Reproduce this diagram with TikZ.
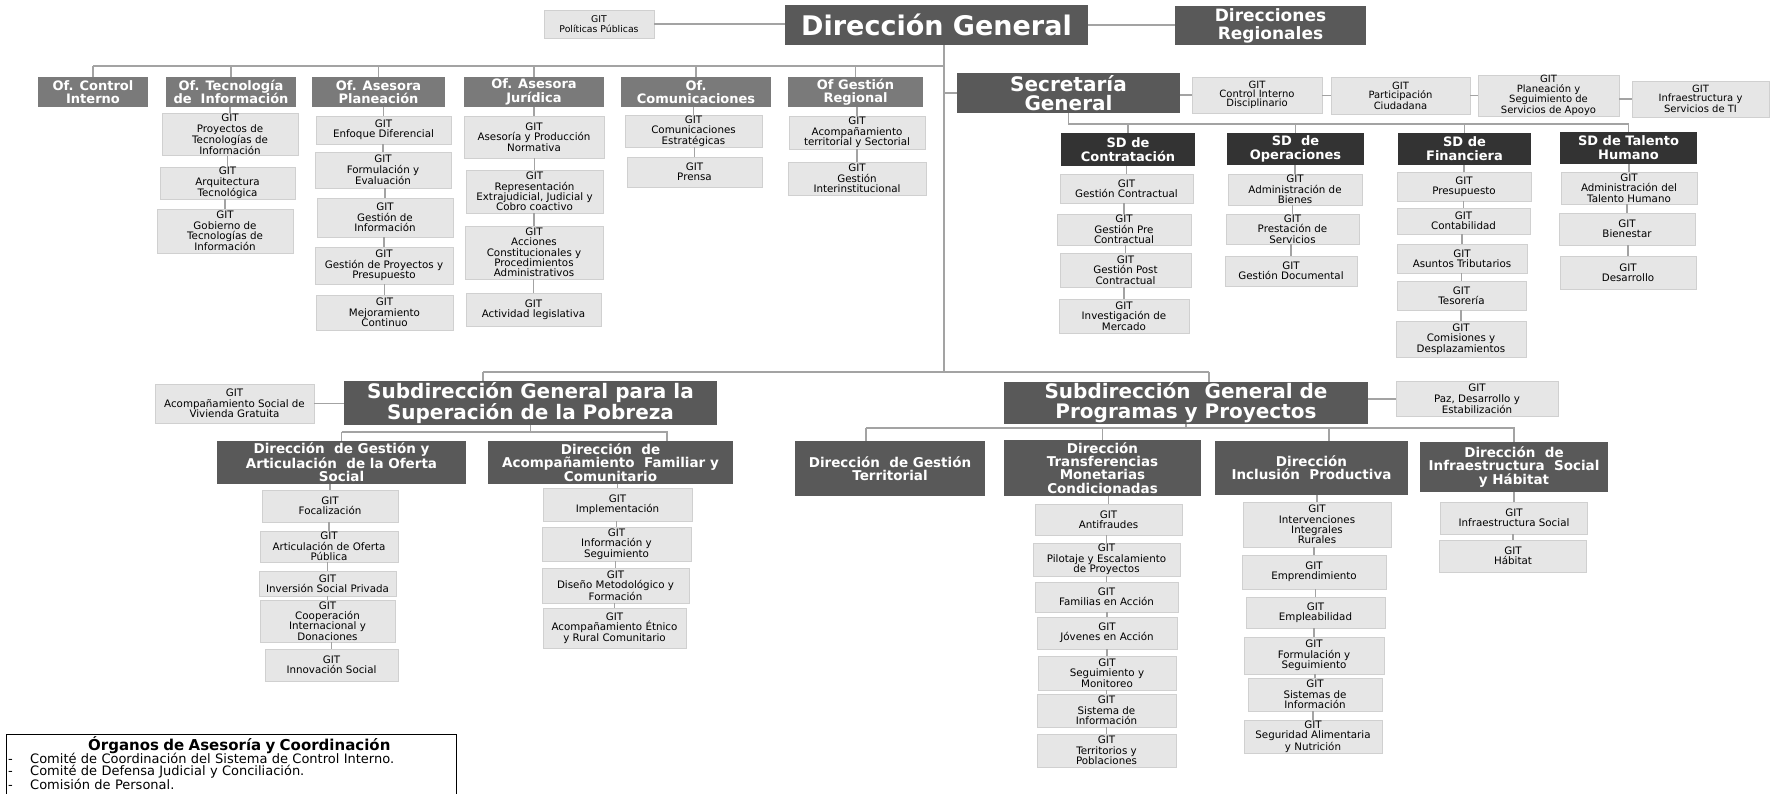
\documentclass[tikz,border=0pt]{standalone}
\usepackage{fontspec}
\setmainfont{DejaVu Sans}
\usetikzlibrary{positioning}
\definecolor{darkbox}{HTML}{595959}
\definecolor{officebox}{HTML}{7A7A7A}
\definecolor{sdbox}{HTML}{333333}
\definecolor{gitfill}{HTML}{E6E6E6}
\definecolor{gitline}{HTML}{D0D0D0}
\definecolor{wiregray}{HTML}{A3A3A3}

\begin{document}
\begin{tikzpicture}[
   x=1pt, y=-1pt,
   git/.style={rectangle, fill=gitfill, draw=gitline, inner sep=0.5pt, align=center, minimum width=136, font=\fontsize{10.3}{10.3}\selectfont},
   gitsmall/.style={git, font=\fontsize{10}{9.3}\selectfont},
   head/.style={rectangle, fill=darkbox, text=white, inner sep=1pt, align=center},
   office/.style={head, fill=officebox, minimum height=30, font=\bfseries\fontsize{13}{13.5}\selectfont},
   sd/.style={head, fill=sdbox, minimum height=32, font=\bfseries\fontsize{13}{14}\selectfont},
   dir/.style={head, font=\bfseries\fontsize{13.5}{13.3}\selectfont},
   subgen/.style={head, minimum height=42, font=\bfseries\fontsize{20}{20}\selectfont},
   link/.style={draw=wiregray, line width=1.2pt}
]
\useasboundingbox (0,0) rectangle (1773,794);

% Nodes
\node[git, minimum width=110, minimum height=28, font=\fontsize{9.3}{10}\selectfont] (polit) at (599,24) {GIT\\Políticas Públicas};
\node[head, minimum width=303, minimum height=40, font=\bfseries\fontsize{27}{30}\selectfont] (dg) at (936.5,25) {Dirección General};
\node[head, minimum width=191, minimum height=39, font=\bfseries\fontsize{17}{18}\selectfont] (dr) at (1270.5,25.5) {Direcciones\\Regionales};

\node[office, minimum width=110] (ofci) at (93,92) {Of. Control\\Interno};
\node[office, minimum width=130] (ofti) at (231,92) {Of. Tecnología\\de\ \ Información};
\node[office, minimum width=133] (ofap) at (378.5,92) {Of. Asesora\\Planeación};
\node[office, minimum width=140] (ofaj) at (534,92) {Of. Asesora\\Jurídica};
\node[office, minimum width=150] (ofco) at (696,92) {Of.\\Comunicaciones};
\node[office, minimum width=135] (ofgr) at (855.5,92) {Of Gestión\\Regional};

\node[git, minimum height=41] (ti1) at (230,134.5) {GIT\\Proyectos de\\Tecnologías de\\Información};
\node[git, minimum width=135, minimum height=30] (ti2) at (227.5,183) {GIT\\Arquitectura\\Tecnológica};
\node[git, minimum height=44] (ti3) at (225,231) {GIT\\Gobierno de\\Tecnologías de\\Información};

\node[git, minimum width=135, minimum height=28] (ap1) at (383.5,130) {GIT\\Enfoque Diferencial};
\node[git, minimum height=36] (ap2) at (383,170) {GIT\\Formulación y\\Evaluación};
\node[git, minimum height=39] (ap3) at (385,217.5) {GIT\\Gestión de\\Información};
\node[git, minimum width=138, minimum height=37] (ap4) at (384,265.5) {GIT\\Gestión de Proyectos y\\Presupuesto};
\node[git, minimum width=137, minimum height=35] (ap5) at (384.5,312.5) {GIT\\Mejoramiento\\Continuo};

\node[git, minimum width=140, minimum height=42] (aj1) at (534,137) {GIT\\Asesoría y Producción\\Normativa};
\node[git, minimum width=137, minimum height=43] (aj2) at (534.5,191.5) {GIT\\Representación\\Extrajudicial, Judicial y\\Cobro coactivo};
\node[git, minimum width=138, minimum height=53] (aj3) at (534,252.5) {GIT\\Acciones\\Constitucionales y\\Procedimientos\\Administrativos};
\node[git, minimum width=135, minimum height=33] (aj4) at (533.5,309.5) {GIT\\Actividad legislativa};

\node[git, minimum width=137, minimum height=32] (co1) at (693.5,131) {GIT\\Comunicaciones\\Estratégicas};
\node[git, minimum width=135, minimum height=30] (co2) at (694.5,172) {GIT\\Prensa};

\node[git, minimum height=33] (gr1) at (857,132.5) {GIT\\Acompañamiento\\territorial y Sectorial};
\node[git, minimum width=138, minimum height=33] (gr2) at (857,178.5) {GIT\\Gestión\\Interinstitucional};

\node[head, minimum width=223, minimum height=40, font=\bfseries\fontsize{20}{19.5}\selectfont] (sg) at (1068.5,93) {Secretaría\\General};
\node[gitsmall, minimum width=130, minimum height=36] (sg1) at (1257,95) {GIT\\Control Interno\\Disciplinario};
\node[gitsmall, minimum width=139, minimum height=37] (sg2) at (1400.5,95.5) {GIT\\Participación\\Ciudadana};
\node[gitsmall, minimum width=141, minimum height=37] (sg3) at (1548.5,95.5) {GIT\\Planeación y\\Seguimiento de\\Servicios de Apoyo};
\node[gitsmall, minimum width=137, minimum height=36] (sg4) at (1700.5,99) {GIT\\Infraestructura y\\Servicios de TI};

\node[sd, minimum width=134, minimum height=33] (sdc) at (1128,149.5) {SD de\\Contratación};
\node[sd, minimum width=137] (sdo) at (1295.5,149) {SD\ \ de\\Operaciones};
\node[sd, minimum width=133] (sdf) at (1464.5,149) {SD de\\Financiera};
\node[sd, minimum width=137] (sdt) at (1628.5,148) {SD de Talento\\Humano};

\node[git, minimum width=133, minimum height=29] (c1) at (1126.5,188.5) {GIT\\Gestión Contractual};
\node[git, minimum width=134, minimum height=31] (c2) at (1124,229.5) {GIT\\Gestión Pre\\Contractual};
\node[git, minimum width=131, minimum height=34] (c3) at (1125.5,270) {GIT\\Gestión Post\\Contractual};
\node[git, minimum width=130, minimum height=34] (c4) at (1124,316) {GIT\\Investigación de\\Mercado};

\node[git, minimum width=134, minimum height=31] (o1) at (1295,189.5) {GIT\\Administración de\\Bienes};
\node[git, minimum width=133, minimum height=30] (o2) at (1292.5,229) {GIT\\Prestación de\\Servicios};
\node[git, minimum width=132, minimum height=30] (o3) at (1291,271) {GIT\\Gestión Documental};

\node[git, minimum width=134, minimum height=29] (f1) at (1464,186.5) {GIT\\Presupuesto};
\node[git, minimum width=133, minimum height=26] (f2) at (1463.5,221) {GIT\\Contabilidad};
\node[git, minimum width=130, minimum height=29] (f3) at (1462,258.5) {GIT\\Asuntos Tributarios};
\node[git, minimum width=129, minimum height=29] (f4) at (1461.5,295.5) {GIT\\Tesorería};
\node[git, minimum width=130, minimum height=36] (f5) at (1461,339) {GIT\\Comisiones y\\Desplazamientos};

\node[git, minimum height=32] (t1) at (1629,188) {GIT\\Administración del\\Talento Humano};
\node[git, minimum height=32] (t2) at (1627,229) {GIT\\Bienestar};
\node[git, minimum height=33] (t3) at (1628,272.5) {GIT\\Desarrollo};

\node[git, minimum width=159, minimum height=39] (viv) at (234.5,403.5) {GIT\\Acompañamiento Social de\\Vivienda Gratuita};
\node[subgen, minimum width=373] (pob) at (530.5,403) {Subdirección General para la\\Superación de la Pobreza};
\node[subgen, minimum width=364] (prog) at (1186,403) {Subdirección\ \ General de\\Programas y Proyectos};
\node[git, minimum width=162, minimum height=35] (paz) at (1477,399) {GIT\\Paz, Desarrollo y\\Estabilización};

\node[dir, minimum width=249, minimum height=43] (dga) at (341.5,462.5) {Dirección\ \ de Gestión y\\Articulación\ \ de la Oferta\\Social};
\node[dir, minimum width=245, minimum height=43] (daf) at (610.5,462.5) {Dirección\ \ de\\Acompañamiento\ \ Familiar y\\Comunitario};

\node[git, minimum height=32] (a1) at (330,506) {GIT\\Focalización};
\node[git, minimum width=138, minimum height=31] (a2) at (329,546.5) {GIT\\Articulación de Oferta\\Pública};
\node[git, minimum width=137, minimum height=25] (a3) at (327.5,583.5) {GIT\\Inversión Social Privada};
\node[git, minimum width=135, minimum height=42] (a4) at (327.5,621) {GIT\\Cooperación\\Internacional y\\Donaciones};
\node[git, minimum width=133, minimum height=32] (a5) at (331.5,665) {GIT\\Innovación Social};

\node[git, minimum width=149, minimum height=33] (b1) at (617.5,504.5) {GIT\\Implementación};
\node[git, minimum width=149, minimum height=34] (b2) at (616.5,544) {GIT\\Información y\\Seguimiento};
\node[git, minimum width=147, minimum height=35] (b3) at (615.5,585.5) {GIT\\Diseño Metodológico y\\Formación};
\node[git, minimum width=143, minimum height=40] (b4) at (614.5,628) {GIT\\Acompañamiento Étnico\\y Rural Comunitario};

\node[dir, minimum width=190, minimum height=55] (dgt) at (890,468.5) {Dirección\ \ de Gestión\\Territorial};
\node[dir, minimum width=197, minimum height=56] (dtmc) at (1102.5,468) {Dirección\\Transferencias\\Monetarias\\Condicionadas};
\node[dir, minimum width=193, minimum height=54] (dip) at (1311.5,468) {Dirección\\Inclusión\ \ Productiva};
\node[dir, minimum width=188, minimum height=50] (dis) at (1514,467) {Dirección\ \ de\\Infraestructura\ \ Social\\y Hábitat};

\node[git, minimum width=147, minimum height=31] (m1) at (1108.5,519.5) {GIT\\Antifraudes};
\node[git, minimum width=147, minimum height=33] (m2) at (1106.5,559.5) {GIT\\Pilotaje y Escalamiento\\de Proyectos};
\node[git, minimum width=143, minimum height=30] (m3) at (1106.5,597) {GIT\\Familias en Acción};
\node[git, minimum width=140, minimum height=32] (m4) at (1107,633) {GIT\\Jóvenes en Acción};
\node[git, minimum width=138, minimum height=34] (m5) at (1107,673) {GIT\\Seguimiento y\\Monitoreo};
\node[git, minimum width=139, minimum height=33] (m6) at (1106.5,710.5) {GIT\\Sistema de\\Información};
\node[git, minimum width=139, minimum height=33] (m7) at (1106.5,750.5) {GIT\\Territorios y\\Poblaciones};

\node[git, minimum width=148, minimum height=45] (p1) at (1317,524.5) {GIT\\Intervenciones\\Integrales\\Rurales};
\node[git, minimum width=144, minimum height=34] (p2) at (1314,572) {GIT\\Emprendimiento};
\node[git, minimum width=139, minimum height=31] (p3) at (1315.5,612.5) {GIT\\Empleabilidad};
\node[git, minimum width=140, minimum height=37] (p4) at (1314,655.5) {GIT\\Formulación y\\Seguimiento};
\node[git, minimum width=134, minimum height=33] (p5) at (1315,694.5) {GIT\\Sistemas de\\Información};
\node[git, minimum width=138, minimum height=33] (p6) at (1313,736.5) {GIT\\Seguridad Alimentaria\\y Nutrición};

\node[git, minimum width=147, minimum height=32] (s1) at (1514,518) {GIT\\Infraestructura Social};
\node[git, minimum width=147, minimum height=32] (s2) at (1513,556) {GIT\\Hábitat};

% legend box, cut by the lower edge
\draw[black, line width=0.9pt] (6,734) rectangle (456,800);
\node[anchor=north west, inner sep=0pt, text width=446pt, align=left,
      font=\fontsize{13}{11.5}\selectfont] (organos) at (8,736)
  {\setlength{\lineskip}{0pt}%
   \hspace*{80pt}{\bfseries\fontsize{15}{11.5}\selectfont Órganos de Asesoría y Coordinación}\\
   \makebox[22pt][l]{-}Comité de Coordinación del Sistema de Control Interno.\\
   \makebox[22pt][l]{-}Comité de Defensa Judicial y Conciliación.\\
   \makebox[22pt][l]{-}Comisión de Personal.};

% Edges
\coordinate (bustop) at (944,66);
\coordinate (trunk) at (944,372);
\coordinate (sdbus) at (1068.5,124);
\coordinate (pobdrop) at (483,372);
\coordinate (progdrop) at (1209,372);
\coordinate (dafdrop) at (667,432);
\coordinate (progbus) at (866,428);
\coordinate (dipdrop) at (1329,428);

\draw[link] (polit.east) -- (polit.east -| dg.west);
\draw[link] (dg.east) -- (dg.east -| dr.west);
\draw[link] (dg.south -| trunk) -- (trunk);
\draw[link] (ofci.north |- bustop) -- (bustop);
\foreach \o in {ofci,ofti,ofap,ofaj,ofco,ofgr}
   \draw[link] (\o.north |- bustop) -- (\o.north);
\draw[link] (sg.west) -- (sg.west -| trunk);
\foreach \a/\b in {sg/sg1,sg1/sg2,sg2/sg3,sg3/sg4}
   \draw[link] (\a.east |- \b.west) -- (\b.west);
\draw[link] (sg.south) -- (sdbus) -- (sdt.north |- sdbus);
\foreach \s in {sdc,sdo,sdf,sdt}
   \draw[link] (\s.north |- sdbus) -- (\s.north);

\draw[link] (pobdrop) -- (progdrop);
\draw[link] (pobdrop) -- (pobdrop |- pob.north);
\draw[link] (progdrop) -- (progdrop |- prog.north);
\draw[link] (viv.east) -- (viv.east -| pob.west);
\draw[link] (prog.east |- paz.west) -- (paz.west);
\draw[link] (pob.south) -- (pob.south |- dafdrop);
\draw[link] (dga.north |- dafdrop) -- (dafdrop) -- (dafdrop |- daf.north);
\draw[link] (dga.north |- dafdrop) -- (dga.north);
\draw[link] (prog.south) -- (prog.south |- progbus);
\draw[link] (progbus) -- (dis.north |- progbus) -- (dis.north);
\draw[link] (progbus) -- (progbus |- dgt.north);
\draw[link] (dtmc.north |- progbus) -- (dtmc.north);
\draw[link] (dipdrop) -- (dipdrop |- dip.north);

\foreach \a/\b in {ofti/ti1,ti1/ti2,ti2/ti3,
                   ofap/ap1,ap1/ap2,ap2/ap3,ap3/ap4,ap4/ap5,
                   ofaj/aj1,aj1/aj2,aj2/aj3,aj3/aj4,
                   ofco/co1,co1/co2,ofgr/gr1,gr1/gr2,
                   sdc/c1,c1/c2,c2/c3,c3/c4,
                   sdo/o1,o1/o2,o2/o3,
                   sdf/f1,f1/f2,f2/f3,f3/f4,f4/f5,
                   sdt/t1,t1/t2,t2/t3,
                   dga/a1,a1/a2,a2/a3,a3/a4,a4/a5,
                   daf/b1,b1/b2,b2/b3,b3/b4,
                   dtmc/m1,m1/m2,m2/m3,m3/m4,m4/m5,m5/m6,m6/m7,
                   dip/p1,p1/p2,p2/p3,p3/p4,p4/p5,p5/p6,
                   dis/s1,s1/s2}
   \draw[link] (\b.north |- \a.south) -- (\b.north);

\end{tikzpicture}
\end{document}
